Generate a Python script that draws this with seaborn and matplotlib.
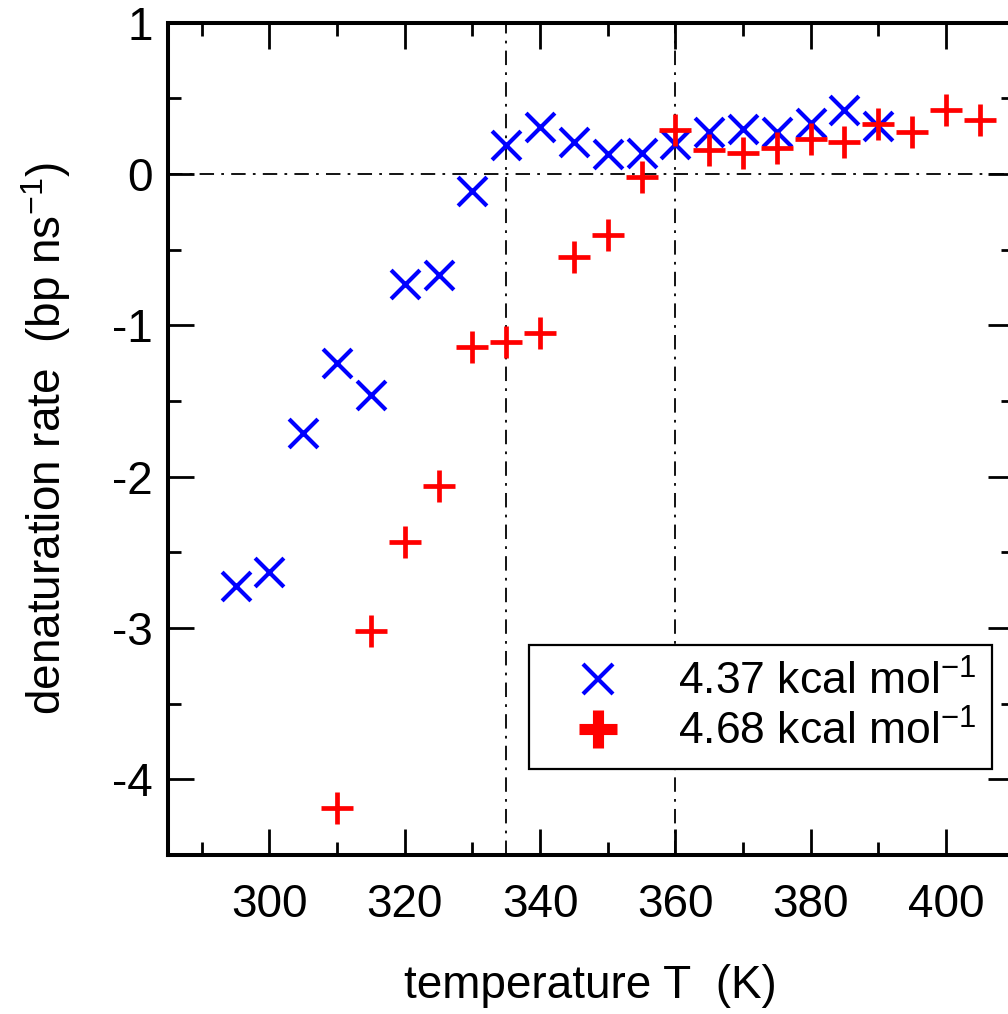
import matplotlib
matplotlib.use("Agg")
import matplotlib.pyplot as plt
from matplotlib.lines import Line2D
from matplotlib.ticker import MultipleLocator
import seaborn as sns
import pandas as pd

# ---- data ----
temp_a = [295, 300, 305, 310, 315, 320, 325, 330, 335, 340, 345, 350, 355,
          360, 365, 370, 375, 380, 385, 390]
rate_a = [-2.72, -2.63, -1.71, -1.25, -1.46, -0.73, -0.67, -0.11, 0.19, 0.31,
          0.21, 0.13, 0.14, 0.20, 0.28, 0.30, 0.28, 0.34, 0.42, 0.32]
temp_b = [310, 315, 320, 325, 330, 335, 340, 345, 350, 355, 360, 365, 370,
          375, 380, 385, 390, 395, 400, 405]
rate_b = [-4.19, -3.02, -2.43, -2.06, -1.14, -1.11, -1.05, -0.55, -0.40, -0.02,
          0.29, 0.16, 0.14, 0.17, 0.23, 0.21, 0.33, 0.28, 0.42, 0.36]
label_a = "4.37 kcal mol$^{-1}$"
label_b = "4.68 kcal mol$^{-1}$"
vlines = [335, 360]

sns.set_style("ticks")
plt.rcParams["font.family"] = ["Liberation Sans", "DejaVu Sans"]
plt.rcParams["mathtext.fontset"] = "custom"
plt.rcParams["mathtext.rm"] = "Liberation Sans"
plt.rcParams["mathtext.it"] = "Liberation Sans"
plt.rcParams["mathtext.default"] = "regular"
plt.rcParams["axes.unicode_minus"] = False
plt.rcParams["text.color"] = "black"
plt.rcParams["axes.labelcolor"] = "black"
plt.rcParams["xtick.labelcolor"] = "black"
plt.rcParams["ytick.labelcolor"] = "black"

fig = plt.figure(figsize=(10.08, 10.14), dpi=100)
ax = fig.add_axes([168 / 1008, 1 - 855 / 1014, (1013.6 - 168) / 1008, (855 - 22.7) / 1014])

dfa = pd.DataFrame({"T": temp_a, "rate": rate_a})
dfb = pd.DataFrame({"T": temp_b, "rate": rate_b})

# reference lines
dash = (0, (8, 4, 1.5, 4))
ax.axhline(0, color="black", lw=1.3, linestyle=dash, zorder=1)
for v in vlines:
    ax.axvline(v, color="black", lw=1.3, linestyle=dash, zorder=1)

sns.scatterplot(data=dfa, x="T", y="rate", marker="x", color="#0000ff", s=430,
                linewidth=3.0, ax=ax, zorder=3, legend=False)
sns.scatterplot(data=dfb, x="T", y="rate", marker="+", color="#ff0000", s=560,
                linewidth=3.4, ax=ax, zorder=3, legend=False)

ax.set_xlim(285, 410)
ax.set_ylim(-4.5, 1)
ax.xaxis.set_major_locator(MultipleLocator(20))
ax.xaxis.set_minor_locator(MultipleLocator(10))
ax.yaxis.set_major_locator(MultipleLocator(1))
ax.yaxis.set_minor_locator(MultipleLocator(0.5))
ax.set_yticks([1, 0, -1, -2, -3, -4])

ax.tick_params(which="both", direction="in", top=True, right=True, width=2.0,
               color="black")
ax.tick_params(which="major", length=19, labelsize=33)
ax.tick_params(axis="y", which="major", pad=11)
ax.tick_params(axis="x", which="major", pad=20)
ax.tick_params(which="minor", length=9.5)
for sp in ax.spines.values():
    sp.set_visible(True)
    sp.set_linewidth(2.9)
    sp.set_color("black")

ax.set_xlabel("temperature T  (K)", fontsize=33, labelpad=27)
ax.set_ylabel("denaturation rate  (bp ns$^{-1}$)", fontsize=33, labelpad=28)

handles = [
    Line2D([], [], marker="x", color="#0000ff", linestyle="none", markersize=21,
           markeredgewidth=3.0),
    Line2D([], [], marker="+", color="#ff0000", linestyle="none", markersize=27,
           markeredgewidth=8),
]
leg = ax.legend(handles, [label_a, label_b], loc="lower right",
                bbox_to_anchor=(0.974, 0.103), borderaxespad=0, fontsize=32,
                fancybox=False, framealpha=1, edgecolor="black",
                handletextpad=0.6, borderpad=0.35, labelspacing=0.15,
                handlelength=2.4)
leg.get_frame().set_linewidth(1.6)

fig.savefig("out.png", dpi=100)
